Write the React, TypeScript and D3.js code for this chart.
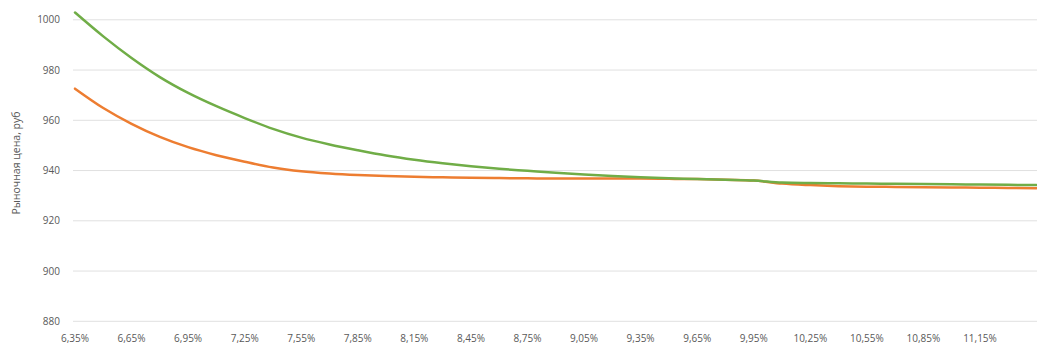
import React from "react";
import * as d3 from "d3";

const rates: number[] = [
  6.35, 6.5, 6.65, 6.8, 6.95, 7.1, 7.25, 7.4, 7.55, 7.7, 7.85, 8.0, 8.15, 8.3, 8.45, 8.6, 8.75, 8.9,
  9.05, 9.2, 9.35, 9.5, 9.65, 9.8, 9.95, 10.1, 10.25, 10.4, 10.55, 10.7, 10.85, 11.0, 11.15, 11.3, 11.45,
];

const greenSeries: number[] = [
  1002.9, 993.4, 984.8, 977.2, 970.9, 965.6, 960.9, 956.6, 953.1, 950.4, 948.1, 946.0, 944.3, 942.9,
  941.7, 940.7, 939.9, 939.1, 938.4, 937.8, 937.3, 936.9, 936.6, 936.3, 936.0, 935.2, 935.0, 934.9,
  934.8, 934.7, 934.6, 934.5, 934.4, 934.3, 934.2,
];

const orangeSeries: number[] = [
  972.6, 964.9, 958.6, 953.4, 949.3, 946.1, 943.5, 941.2, 939.7, 938.8, 938.2, 937.8, 937.5, 937.3,
  937.1, 937.0, 936.9, 936.8, 936.8, 936.8, 936.8, 936.7, 936.6, 936.3, 936.0, 934.8, 934.2, 933.8,
  933.6, 933.5, 933.4, 933.3, 933.2, 933.1, 933.0,
];

const xTickValues: number[] = [
  6.35, 6.65, 6.95, 7.25, 7.55, 7.85, 8.15, 8.45, 8.75, 9.05, 9.35, 9.65, 9.95, 10.25, 10.55, 10.85, 11.15,
];
const yTickValues: number[] = [880, 900, 920, 940, 960, 980, 1000];
const yAxisTitle = "Рыночная цена, руб";

const W = 1037;
const H = 347;

export default function App() {
  const x = d3.scaleLinear().domain([6.35, 11.15]).range([75, 980]);
  const y = d3.scaleLinear().domain([880, 1000]).range([321.3, 19.8]);
  const fmtX = (v: number) => v.toFixed(2).replace(".", ",") + "%";

  const line = d3
    .line<number>()
    .x((_, i) => x(rates[i]))
    .y((d) => y(d))
    .curve(d3.curveMonotoneX);

  const font = "'Open Sans', 'Noto Sans', Arial, sans-serif";
  const labelColor = "#595959";

  return (
    <svg
      width={W}
      height={H}
      style={{ position: "absolute", left: 0, top: 0, background: "#fff" }}
      fontFamily={font}
    >
      <rect width={W} height={H} fill="#fff" />
      {yTickValues.map((v) => (
        <g key={v}>
          <line x1={73} x2={W} y1={y(v)} y2={y(v)} stroke="#e0e0e0" strokeWidth={1} />
          <text
            x={60}
            y={y(v)}
            dy="0.35em"
            textAnchor="end"
            fontSize={10}
            fill={labelColor}
          >
            {v}
          </text>
        </g>
      ))}
      {xTickValues.map((v) => (
        <text
          key={v}
          x={x(v)}
          y={342}
          textAnchor="middle"
          fontSize={10}
          fill={labelColor}
        >
          {fmtX(v)}
        </text>
      ))}
      <text
        transform={`translate(20, 163) rotate(-90)`}
        textAnchor="middle"
        fontSize={10.5}
        fill={labelColor}
      >
        {yAxisTitle}
      </text>
      <path d={line(orangeSeries) || ""} fill="none" stroke="#ED7D31" strokeWidth={2.5} strokeLinecap="round" />
      <path d={line(greenSeries) || ""} fill="none" stroke="#70AD47" strokeWidth={2.5} strokeLinecap="round" />
    </svg>
  );
}
